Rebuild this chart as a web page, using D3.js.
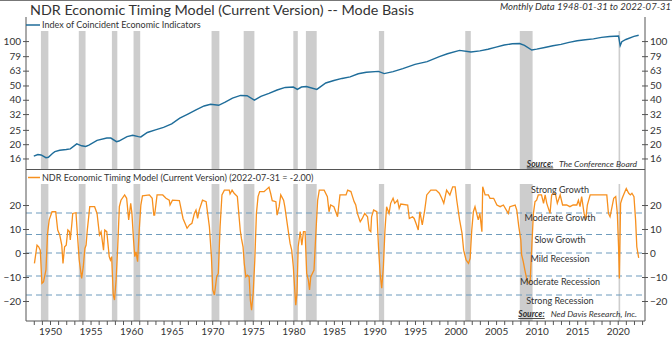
<!DOCTYPE html>
<html>
<head>
<meta charset="utf-8">
<script src="https://cdn.jsdelivr.net/npm/d3@7"></script>
<style>
body { margin: 0; background: #fff; }
svg text { font-family: Lato, "Open Sans", sans-serif; fill: #333; }
</style>
</head>
<body>
<div id="chart-area"></div>
<script>
// recessions (decimal years)
var recStart = [1948.88, 1953.55, 1957.63, 1960.3, 1969.92, 1973.88, 1980.0, 1981.55, 1990.55, 2001.2, 2007.92, 2020.1];
var recEnd   = [1949.8, 1954.38, 1958.3, 1961.12, 1970.88, 1975.2, 1980.55, 1982.88, 1991.2, 2001.88, 2009.5, 2020.3];

// Index of Coincident Economic Indicators
var idxYears = [1948.0, 1948.5, 1948.9, 1949.5, 1949.8, 1950.3, 1950.6, 1951.2, 1952.0, 1952.5, 1953.3, 1953.9,
    1954.4, 1954.8, 1955.8, 1957.0, 1957.5, 1958.2, 1958.5, 1959.5, 1960.2, 1960.9, 1961.2, 1962.0, 1963.0,
    1964.0, 1965.0, 1966.0, 1967.0, 1968.0, 1969.0, 1969.8, 1970.8, 1971.6, 1972.5, 1973.5, 1974.3, 1975.2,
    1976.0, 1977.0, 1978.0, 1979.0, 1980.0, 1980.5, 1981.0, 1981.6, 1982.9, 1984.0, 1985.0, 1986.0, 1987.0,
    1988.0, 1989.0, 1990.5, 1991.2, 1992.3, 1993.5, 1995.0, 1996.5, 1998.0, 1999.0, 2000.5, 2001.9, 2003.0,
    2004.0, 2005.0, 2006.0, 2007.0, 2007.9, 2008.5, 2009.4, 2010.0, 2011.0, 2012.0, 2013.0, 2014.0, 2015.0,
    2016.0, 2017.0, 2018.0, 2019.0, 2020.1, 2020.3, 2020.5, 2021.0, 2022.0, 2022.58];
var idxValues = [16.6, 17.0, 16.9, 16.2, 16.3, 17.3, 17.8, 18.2, 18.4, 18.6, 20.1, 19.5,
    19.3, 19.7, 21.2, 22.0, 22.0, 20.8, 21.0, 22.5, 23.0, 22.5, 22.4, 24.0, 25.0,
    26.0, 27.5, 30.0, 32.0, 34.2, 36.3, 37.3, 36.7, 38.5, 41.0, 42.8, 42.6, 39.8,
    42.2, 44.2, 46.6, 48.5, 48.8, 47.0, 48.8, 49.2, 47.0, 52.0, 54.0, 55.8, 57.2,
    60.0, 61.5, 62.3, 60.2, 62.0, 65.0, 69.5, 72.5, 78.5, 82.0, 86.5, 84.3, 85.8,
    88.0, 91.0, 94.0, 95.8, 96.3, 93.5, 87.0, 88.2, 90.5, 93.0, 95.0, 98.0, 100.5,
    102.0, 103.5, 106.0, 107.5, 108.2, 93.0, 99.0, 102.5, 107.5, 109.5];
var idxTicks = [16, 20, 25, 32, 40, 50, 63, 79, 100];

// NDR Economic Timing Model
var etmYears = [1948.08, 1948.4, 1948.6, 1948.8, 1949.0, 1949.2, 1949.5, 1949.7, 1949.9, 1950.25, 1950.7, 1950.95,
    1951.2, 1951.45, 1951.6, 1951.8, 1952.0, 1952.2, 1952.4, 1952.5, 1952.7, 1952.8, 1953.2, 1953.4, 1953.6,
    1953.9, 1954.1, 1954.3, 1954.45, 1954.6, 1954.9, 1955.5, 1955.8, 1956.1, 1956.3, 1956.6, 1956.75, 1957.0,
    1957.3, 1957.45, 1957.6, 1957.8, 1957.95, 1958.15, 1958.35, 1958.55, 1958.75, 1959.2, 1959.45, 1959.7,
    1959.95, 1960.1, 1960.3, 1960.45, 1960.6, 1960.8, 1961.0, 1961.2, 1961.4, 1962.25, 1962.6, 1962.8, 1962.9,
    1963.2, 1963.9, 1964.3, 1964.7, 1964.8, 1965.1, 1965.95, 1966.4, 1966.9, 1967.2, 1967.5, 1967.8, 1968.0,
    1968.2, 1968.4, 1968.8, 1969.25, 1969.65, 1969.9, 1970.07, 1970.27, 1970.55, 1970.75, 1970.97, 1971.2,
    1971.5, 1972.1, 1972.2, 1972.45, 1972.7, 1973.1, 1973.45, 1973.6, 1973.8, 1973.95, 1974.15, 1974.35,
    1974.55, 1974.7, 1974.85, 1975.05, 1975.25, 1975.45, 1975.65, 1975.85, 1976.4, 1976.6, 1977.0, 1977.2,
    1977.4, 1977.85, 1978.0, 1978.25, 1978.45, 1978.8, 1978.95, 1979.3, 1979.6, 1979.8, 1980.0, 1980.1,
    1980.3, 1980.45, 1980.6, 1980.85, 1981.05, 1981.25, 1981.45, 1981.65, 1981.85, 1982.0, 1982.15, 1982.35,
    1982.55, 1982.8, 1983.0, 1983.2, 1983.8, 1984.2, 1984.4, 1984.6, 1985.0, 1985.45, 1985.75, 1986.5,
    1986.7, 1987.1, 1987.3, 1987.5, 1987.7, 1987.9, 1988.25, 1988.5, 1988.8, 1989.15, 1989.35, 1989.55,
    1989.65, 1989.9, 1990.3, 1990.5, 1990.7, 1990.9, 1991.1, 1991.3, 1991.5, 1991.8, 1992.0, 1992.3, 1992.5,
    1992.85, 1993.05, 1993.25, 1994.1, 1994.3, 1994.7, 1994.9, 1995.2, 1995.4, 1995.6, 1995.9, 1996.2,
    1996.45, 1996.95, 1997.6, 1998.0, 1998.3, 1998.55, 1998.9, 1999.3, 1999.65, 1999.95, 2000.15, 2000.5,
    2000.8, 2001.0, 2001.3, 2001.6, 2001.8, 2002.0, 2002.2, 2002.4, 2002.6, 2002.8, 2003.0, 2003.25, 2003.35,
    2003.65, 2004.05, 2004.25, 2004.7, 2005.1, 2005.5, 2005.9, 2006.5, 2006.7, 2007.35, 2007.55, 2007.8,
    2008.05, 2008.15, 2008.35, 2008.55, 2008.8, 2009.0, 2009.2, 2009.4, 2009.6, 2009.8, 2010.0, 2010.2,
    2010.6, 2010.85, 2011.05, 2011.25, 2011.65, 2011.85, 2012.3, 2012.55, 2012.9, 2013.2, 2013.7, 2014.1,
    2014.5, 2014.95, 2015.15, 2015.35, 2015.55, 2015.85, 2016.05, 2016.25, 2016.6, 2017.4, 2018.25, 2018.65,
    2018.85, 2019.05, 2019.3, 2019.5, 2019.75, 2019.95, 2020.1, 2020.2, 2020.35, 2020.55, 2020.8, 2021.05,
    2021.35, 2021.55, 2021.75, 2022.0, 2022.2, 2022.35, 2022.58];
var etmValues = [-4.3, 3.3, 2.6, 1.2, -12.6, -12.0, -7.0, 8.2, 13.8, 17.2, 17.2, 9.6,
    7.5, 3.3, -4.3, 2.6, 3.3, 9.6, 8.9, 5.4, 12.4, 16.5, 16.8, 6.8, -2.9,
    -10.6, -5.7, 1.9, 3.3, 9.6, 19.3, 19.3, 16.5, 7.5, 8.9, 1.2, 9.6, 8.9,
    -1.5, -2.9, -1.5, -17.5, -19.6, -11.2, 2.6, 19.3, 22.0, 24.2, 22.8, 13.8,
    20.7, 16.5, 5.4, -1.5, 0.5, -3.6, 9.6, 20.0, 23.8, 24.2, 22.8, 15.8, 15.8,
    24.2, 24.2, 22.8, 22.0, 20.0, 22.0, 21.8, 14.4, 10.3, 11.7, 12.4, 16.5, 17.9,
    14.4, 17.9, 22.0, 21.4, 11.0, -1.5, -15.4, -17.5, -9.9, -8.5, 11.0, 24.2,
    26.2, 26.2, 24.6, 26.2, 24.9, 23.5, 9.6, 6.1, 2.6, -4.3, -9.9, -9.2,
    -9.9, -19.6, -23.8, -16.8, -2.9, 16.5, 23.5, 25.6, 25.6, 26.2, 27.4, 24.9,
    21.8, 21.4, 15.8, 19.3, 24.2, 22.0, 19.3, 11.0, 4.0, 1.2, -5.7, -11.2,
    -21.7, -16.8, 2.6, 8.9, 3.3, 8.9, 8.9, -8.5, -11.2, -15.4, -9.9, -8.5,
    -7.1, 9.6, 22.0, 26.2, 26.2, 23.5, 17.2, 20.0, 19.3, 15.1, 24.2, 24.2,
    26.2, 25.6, 23.5, 21.4, 20.0, 16.5, 13.0, 14.4, 16.5, 15.1, 9.6, 8.9,
    15.1, 17.9, 17.2, 2.6, -8.5, -14.7, -5.7, 9.6, 19.3, 16.5, 20.7, 22.8, 20.7,
    22.0, 18.6, 20.4, 20.0, 14.4, 15.1, 14.4, 11.7, 9.6, 17.2, 11.7, 17.9,
    24.2, 26.2, 26.2, 24.9, 22.8, 20.7, 26.2, 24.2, 27.6, 27.6, 22.0, 13.8,
    8.2, 1.2, -2.9, -4.3, -2.2, 9.6, 17.2, 19.3, 16.5, 13.8, 16.5, 8.9, 27.6,
    24.2, 24.2, 22.8, 22.8, 20.0, 19.3, 20.0, 16.5, 19.3, 20.0, 17.9, 11.0,
    5.4, -0.8, -3.6, -7.1, -11.2, -12.6, -12.0, 2.6, 16.5, 21.4, 22.0, 24.2,
    24.2, 20.7, 24.2, 20.7, 16.5, 24.2, 24.9, 20.7, 24.2, 20.0, 20.0, 19.3,
    20.0, 20.0, 22.0, 19.3, 23.5, 16.5, 13.8, 20.0, 24.2, 24.2, 24.2, 24.2,
    16.5, 15.1, 19.3, 22.8, 23.5, 16.5, 2.6, -10.6, 20.7, 22.8, 24.9, 26.9,
    24.9, 24.2, 24.9, 23.5, 13.8, 2.6, -2.0];
var etmTicks = [-20, -10, 0, 10, 20];
var modeCuts = [16.7, 7.7, 0, -9.6, -17.5];
var modeNames = ["Strong Growth", "Moderate Growth", "Slow Growth", "Mild Recession", "Moderate Recession", "Strong Recession"];

var W = 672, H = 339;
var left = 26, right = 645;
var top1 = 17, mid = 169.5, bot2 = 321;

var svg = d3.select("#chart-area")
    .append("svg")
        .attr("width", W)
        .attr("height", H);

var x = d3.scaleLinear().domain([1947.04, 2023.36]).range([left, right]);
var yTop = d3.scaleLog().domain([13.47, 145.6]).range([mid, top1]);
var yBot = d3.scaleLinear().domain([-28.33, 34.8]).range([bot2, mid]);

// recession shading
function bands(y0, y1) {
    svg.append("g").selectAll("rect")
        .data(recStart)
        .enter()
        .append("rect")
            .attr("x", function(d) { return x(d); })
            .attr("width", function(d, i) { return x(recEnd[i]) - x(d); })
            .attr("y", y0)
            .attr("height", y1 - y0)
            .attr("fill", "#cdcdcd");
}
bands(31, mid);
bands(184, bot2);

// mode cut-off lines
svg.append("g").selectAll("line")
    .data(modeCuts)
    .enter()
    .append("line")
        .attr("x1", left).attr("x2", right)
        .attr("y1", function(d) { return yBot(d); })
        .attr("y2", function(d) { return yBot(d); })
        .attr("stroke", "#6f9cbd")
        .attr("stroke-width", 1.1)
        .attr("stroke-dasharray", "6,4");

// series lines
var idxLine = d3.line()
    .x(function(d, i) { return x(idxYears[i]); })
    .y(function(d) { return yTop(d); });
svg.append("path")
    .attr("d", idxLine(idxValues))
    .attr("fill", "none")
    .attr("stroke", "#1f6d9a")
    .attr("stroke-width", 1.4);

var etmLine = d3.line()
    .x(function(d, i) { return x(etmYears[i]); })
    .y(function(d) { return yBot(d); });
svg.append("path")
    .attr("d", etmLine(etmValues))
    .attr("fill", "none")
    .attr("stroke", "#f7901e")
    .attr("stroke-width", 1.3);

// frame
var frame = svg.append("g").attr("stroke", "#555").attr("stroke-width", 1);
frame.append("line").attr("x1", 0).attr("x2", W).attr("y1", 0.5).attr("y2", 0.5).attr("stroke", "#777");
frame.append("line").attr("x1", left).attr("x2", left).attr("y1", top1).attr("y2", bot2);
frame.append("line").attr("x1", right).attr("x2", right).attr("y1", top1).attr("y2", bot2);
frame.append("line").attr("x1", left).attr("x2", right).attr("y1", mid).attr("y2", mid);
frame.append("line").attr("x1", left).attr("x2", right).attr("y1", bot2).attr("y2", bot2);

// axes
function styleAxis(g, inner) {
    g.select(".domain").remove();
    g.selectAll(".tick line").attr("stroke", "#555");
    if (inner) g.selectAll(".tick line").attr(inner, 3);
    g.selectAll("text").attr("font-size", "10px").attr("fill", "#333");
}

svg.append("g")
    .attr("transform", "translate(" + left + ",0)")
    .call(d3.axisLeft(yTop).tickValues(idxTicks).tickFormat(d3.format("d")).tickSize(3).tickPadding(2))
    .call(function(g) { styleAxis(g, "x1"); });
svg.append("g")
    .attr("transform", "translate(" + right + ",0)")
    .call(d3.axisRight(yTop).tickValues(idxTicks).tickFormat(d3.format("d")).tickSize(3).tickPadding(2))
    .call(function(g) { g.selectAll(".tick line").attr("x1", -3); styleAxis(g); });
svg.append("g")
    .attr("transform", "translate(" + left + ",0)")
    .call(d3.axisLeft(yBot).tickValues(etmTicks).tickSize(3).tickPadding(2))
    .call(function(g) { styleAxis(g, "x1"); });
svg.append("g")
    .attr("transform", "translate(" + right + ",0)")
    .call(d3.axisRight(yBot).tickValues(etmTicks).tickSize(3).tickPadding(2))
    .call(function(g) { g.selectAll(".tick line").attr("x1", -3); styleAxis(g); });

svg.append("g")
    .attr("transform", "translate(0," + bot2 + ")")
    .call(d3.axisBottom(x).tickValues(d3.range(1948, 2024))
        .tickFormat(function(d) { return d % 5 === 0 ? d : ""; })
        .tickSize(4).tickPadding(3))
    .call(function(g) { styleAxis(g); });

// titles
svg.append("text")
    .attr("x", 30).attr("y", 15)
    .attr("font-size", "14.3px")
    .text("NDR Economic Timing Model (Current Version) -- Mode Basis");
svg.append("text")
    .attr("x", 671).attr("y", 10)
    .attr("text-anchor", "end")
    .attr("font-size", "9.5px")
    .attr("font-style", "italic")
    .text("Monthly Data 1948-01-31 to 2022-07-31");

// legends
svg.append("line").attr("x1", left).attr("x2", 40).attr("y1", 25).attr("y2", 25)
    .attr("stroke", "#1f6d9a").attr("stroke-width", 1.5);
svg.append("text").attr("x", 42).attr("y", 28).attr("font-size", "9px")
    .text("Index of Coincident Economic Indicators");
svg.append("line").attr("x1", 28).attr("x2", 40).attr("y1", 177.5).attr("y2", 177.5)
    .attr("stroke", "#f7901e").attr("stroke-width", 1.5);
svg.append("text").attr("x", 42).attr("y", 180.5).attr("font-size", "9px")
    .text("NDR Economic Timing Model (Current Version) (2022-07-31 = -2.00)");

// mode labels
svg.append("g").selectAll("text")
    .data(modeNames)
    .enter()
    .append("text")
        .attr("x", 560)
        .attr("y", function(d, i) { return i === 0 ? yBot(modeCuts[0]) - 20 : yBot(modeCuts[i - 1]) + 8.5; })
        .attr("text-anchor", "middle")
        .attr("font-size", "9px")
        .text(function(d) { return d; });

// sources
function source(y, name) {
    var t = svg.append("text")
        .attr("x", 637).attr("y", y)
        .attr("text-anchor", "end")
        .attr("font-size", "8.5px")
        .attr("font-style", "italic");
    t.append("tspan").attr("font-weight", "bold").attr("text-decoration", "underline").text("Source:");
    t.append("tspan").text("\u00a0\u00a0 " + name);
}
source(166.5, "The Conference Board");
source(317, "Ned Davis Research, Inc.");
</script>
</body>
</html>
